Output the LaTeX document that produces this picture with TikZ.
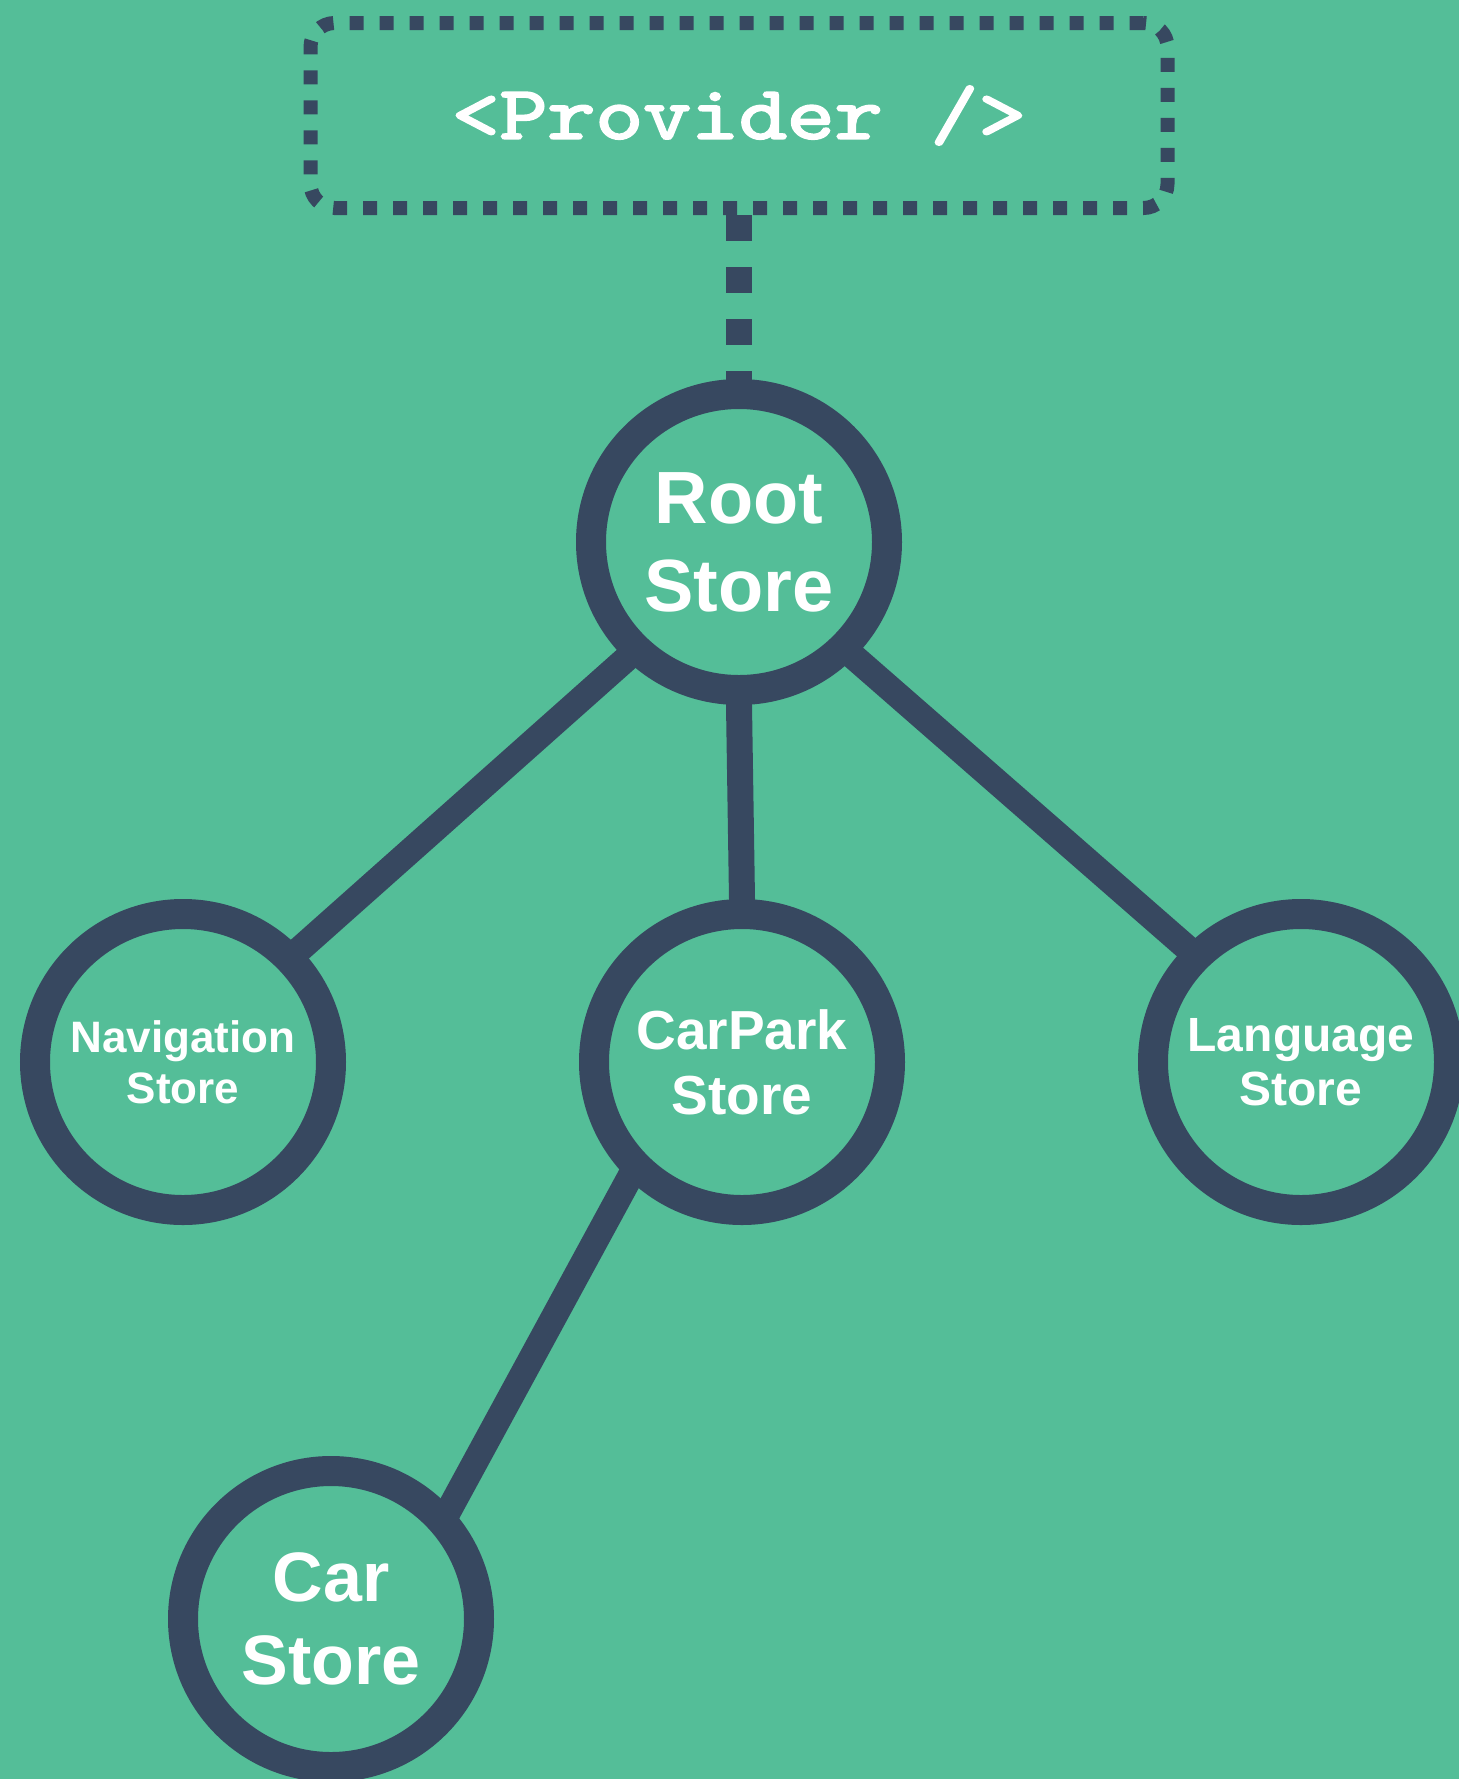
\documentclass[tikz,border=0pt]{standalone}
\usepackage{fontspec}
\usepackage{graphicx}
\newfontfamily\labelfont{Liberation Sans}
\newfontfamily\codefont{lmmono10-regular.otf}[FakeBold=2.5]
\usetikzlibrary{math}
\definecolor{mygreen}{RGB}{84,190,152}
\definecolor{myslate}{RGB}{55,72,96}
\pgfdeclarelayer{backdrop}
\pgfdeclarelayer{links}
\pgfsetlayers{backdrop,links,main}

\begin{document}
\begin{tikzpicture}[x=0.5pt,y=-0.5pt,
  store/.style={circle,draw=myslate,fill=mygreen,line width=15pt,minimum size=148pt,inner sep=0pt,text=white,align=center},
  link/.style={draw=myslate,line width=13pt},
  branch/.style={link,shorten <=-20pt,shorten >=-20pt}]
\tikzmath{
\cx=739;
\ry=542;
\sy=1062;
\cy=1619;
}
\useasboundingbox (0,0) rectangle (1459,1779);
\begin{pgfonlayer}{backdrop}
\fill[mygreen] (0,0) rectangle (1459,1779);
\end{pgfonlayer}

\node[draw=myslate,line width=7pt,dash pattern=on 7pt off 8pt,rounded corners=12pt,minimum width=428.5pt,minimum height=92.5pt,inner sep=0pt,text=white,font=\codefont\fontsize{38}{46}\selectfont] (provider) at (\cx,115.5) {\scalebox{1.2}[1]{<Provider />}};

\node[store,font=\labelfont\bfseries\fontsize{37}{44}\selectfont] (root) at (\cx,\ry) {Root\\Store};
\node[store,font=\labelfont\bfseries\fontsize{22}{25.5}\selectfont] (nav) at (183,\sy) {Navigation\\Store};
\node[store,font=\labelfont\bfseries\fontsize{27.5}{32.5}\selectfont] (carpark) at (742,\sy) {CarPark\\Store};
\node[store,font=\labelfont\bfseries\fontsize{24}{27}\selectfont] (lang) at (1301,\sy) {Language\\Store};
\node[store,font=\labelfont\bfseries\fontsize{35}{41.5}\selectfont] (car) at (331,\cy) {Car\\Store};

\begin{pgfonlayer}{links}
\draw[link,dash pattern=on 13pt off 13pt] (provider.south) -- (root.center);
\draw[branch] (root.226) -- (nav.44);
\draw[branch] (root.south) -- (carpark.north);
\draw[branch] (root.315) -- (lang.135);
\draw[branch] (carpark.226) -- (car.43);
\end{pgfonlayer}
\end{tikzpicture}
\end{document}
